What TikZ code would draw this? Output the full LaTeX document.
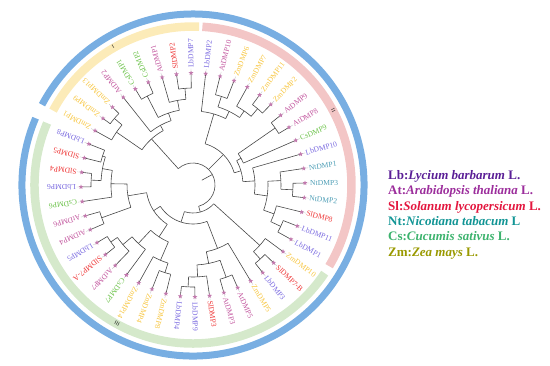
\documentclass[tikz,border=0pt]{standalone}
\usepackage{fontspec}
\setmainfont{Liberation Serif}
\usetikzlibrary{shapes.geometric}
\definecolor{ringblue}{HTML}{78AEE2}
\definecolor{ringy}{HTML}{FCEBB8}
\definecolor{ringp}{HTML}{F3C6C6}
\definecolor{ringg}{HTML}{D5E9CB}
\definecolor{mkc}{HTML}{C27AAE}
\definecolor{lbc}{HTML}{7B6BE0}
\definecolor{atc}{HTML}{C2569E}
\definecolor{slc}{HTML}{EE3535}
\definecolor{ntc}{HTML}{4C9DB5}
\definecolor{csc}{HTML}{6CC24A}
\definecolor{zmc}{HTML}{F7C53E}
\definecolor{lbleg}{HTML}{5A1E96}
\definecolor{atleg}{HTML}{9C2E9C}
\definecolor{slleg}{HTML}{E3163E}
\definecolor{ntleg}{HTML}{129595}
\definecolor{csleg}{HTML}{3DB36E}
\definecolor{zmleg}{HTML}{999900}
\newcommand\Stem[3]{\draw[br] (#1:#2pt) -- (#1:#3pt);}
\newcommand\Harc[3]{\draw[br] (#1:#3pt) arc[start angle=#1, end angle=#2, radius=#3pt];}
\newcommand\Inode[5]{\Stem{#1}{#2}{#3}\Harc{#4}{#5}{#3}}
\newcommand\Leaf[5]{\draw[br] (#1:#2pt) -- (#1:112pt);
  \draw[tipline] (#1:113pt) -- (#1:116.5pt);
  \node[mk] (m#3) at (#1:112pt) {};
  \node[lbl, text=#5, rotate=#1] (#3) at (#1:117pt) {#4};}
\begin{document}
\begin{tikzpicture}[x=1pt,y=1pt,
  br/.style={draw=black!72, line width=0.6pt},
  tipline/.style={draw=black!25, line width=0.3pt},
  mk/.style={star, star points=5, star point ratio=2.3, minimum size=5pt, inner sep=0pt, fill=mkc, draw=none},
  lbl/.style={font=\fontsize{7.6}{8}\selectfont, inner sep=0pt, anchor=west},
  leg/.style={font=\fontsize{13}{15}\selectfont\bfseries, inner sep=0pt, anchor=base west},
  rom/.style={font=\fontsize{5}{5}\selectfont, inner sep=0pt, text=black},
  ring/.style={line width=8.5pt, line cap=butt}]
\useasboundingbox (-193,-180) rectangle (357,185);
% rings
\draw[line width=7pt, color=ringblue] (157:171pt) arc[start angle=157, end angle=512, radius=171pt];
\draw[ring, color=ringy] (152:158.5pt) arc[start angle=152, end angle=87.8, radius=158.5pt];
\draw[ring, color=ringp] (86.6:158.5pt) arc[start angle=86.6, end angle=-30.8, radius=158.5pt];
\draw[ring, color=ringg] (-33.8:158.5pt) arc[start angle=-33.8, end angle=-203, radius=158.5pt];
\node[rom, rotate=30] (r1) at (120:160pt) {I};
\node[rom, rotate=-62] (r2) at (28:159pt) {II};
\node[rom, rotate=-208.7] (r3) at (-118.7:158pt) {III};
% root
\Stem{28.5}{10}{22}
\Harc{132.02}{-75}{22}
% clade I
\Inode{132.02}{22}{62}{145.375}{118.66}
\Inode{145.375}{62}{93}{151}{139.75}
\Leaf{151}{93}{ZmDMP1}{ZmDMP1}{zmc}
\Inode{139.75}{93}{103}{143.5}{136}
\Leaf{143.5}{103}{ZmDMP9}{ZmDMP9}{zmc}
\Leaf{136}{103}{ZmDMP13}{ZmDMP13}{zmc}
\Inode{118.66}{62}{68}{128.5}{108.8125}
\Leaf{128.5}{68}{AtDMP2}{AtDMP2}{atc}
\Inode{108.8125}{68}{76}{117.25}{100.375}
\Inode{117.25}{76}{100}{121}{113.5}
\Leaf{121}{100}{CsDMP1}{CsDMP1}{csc}
\Leaf{113.5}{100}{CsDMP2}{CsDMP2}{csc}
\Inode{100.375}{76}{86}{106}{94.75}
\Leaf{106}{86}{AtDMP1}{AtDMP1}{atc}
\Inode{94.75}{86}{97}{98.5}{91}
\Leaf{98.5}{97}{SlDMP2}{SlDMP2}{slc}
\Leaf{91}{97}{LbDMP7}{LbDMP7}{lbc}
% clade II
\Inode{45.06}{22}{43}{73.656}{16.47}
\Inode{73.656}{43}{74}{83.5}{63.8125}
\Leaf{83.5}{74}{LbDMP2}{LbDMP2}{lbc}
\Inode{63.8125}{74}{82}{72.25}{55.375}
\Inode{72.25}{82}{93}{76}{68.5}
\Leaf{76}{93}{AtDMP10}{AtDMP10}{atc}
\Leaf{68.5}{93}{ZmDMP6}{ZmDMP6}{zmc}
\Inode{55.375}{82}{90}{61}{49.75}
\Leaf{61}{90}{ZmDMP7}{ZmDMP7}{zmc}
\Inode{49.75}{90}{100}{53.5}{46}
\Leaf{53.5}{100}{ZmDMP11}{ZmDMP11}{zmc}
\Leaf{46}{100}{ZmDMP2}{ZmDMP2}{zmc}
\Inode{16.47}{43}{50}{29.125}{3.8125}
\Inode{29.125}{50}{55}{34.75}{23.5}
\Inode{34.75}{55}{100}{38.5}{31}
\Leaf{38.5}{100}{AtDMP9}{AtDMP9}{atc}
\Leaf{31}{100}{AtDMP8}{AtDMP8}{atc}
\Leaf{23.5}{55}{CsDMP9}{CsDMP9}{csc}
\Inode{3.8125}{50}{62}{16}{-8.375}
\Leaf{16}{62}{LbDMP10}{LbDMP10}{lbc}
\Inode{-8.375}{62}{75}{2.875}{-19.625}
\Inode{2.875}{75}{88}{8.5}{-2.75}
\Leaf{8.5}{88}{NtDMP1}{NtDMP1}{ntc}
\Inode{-2.75}{88}{100}{1}{-6.5}
\Leaf{1}{100}{NtDMP3}{NtDMP3}{ntc}
\Leaf{-6.5}{100}{NtDMP2}{NtDMP2}{ntc}
\Inode{-19.625}{75}{86}{-14}{-25.25}
\Leaf{-14}{86}{SlDMP8}{SlDMP8}{slc}
\Inode{-25.25}{86}{97}{-21.5}{-29}
\Leaf{-21.5}{97}{LbDMP11}{LbDMP11}{lbc}
\Leaf{-29}{97}{LbDMP1}{LbDMP1}{lbc}
% clade III
\Inode{-75}{22}{28}{-42.125}{-107.87}
\Inode{-42.125}{28}{90}{-36.5}{-47.75}
\Leaf{-36.5}{90}{ZmDMP10}{ZmDMP10}{zmc}
\Inode{-47.75}{90}{100}{-44}{-51.5}
\Leaf{-44}{100}{SlDMP7B}{SlDMP7-B}{slc}
\Leaf{-51.5}{100}{LbDMP3}{LbDMP3}{lbc}
\Inode{-107.87}{28}{39}{-68.84}{-146.89}
\Inode{-68.84}{39}{68}{-59}{-78.6875}
\Leaf{-59}{68}{ZmDMP5}{ZmDMP5}{zmc}
\Inode{-78.6875}{68}{80}{-70.25}{-87.125}
\Inode{-70.25}{80}{98}{-66.5}{-74}
\Leaf{-66.5}{98}{AtDMP5}{AtDMP5}{atc}
\Leaf{-74}{98}{AtDMP3}{AtDMP3}{atc}
\Inode{-87.125}{80}{92}{-81.5}{-92.75}
\Leaf{-81.5}{92}{SlDMP3}{SlDMP3}{slc}
\Inode{-92.75}{92}{102}{-89}{-96.5}
\Leaf{-89}{102}{LbDMP9}{LbDMP9}{lbc}
\Leaf{-96.5}{102}{LbDMP4}{LbDMP4}{lbc}
\Inode{-146.89}{39}{47}{-123.22}{-170.56}
\Inode{-123.22}{47}{62}{-113.375}{-133.06}
\Inode{-113.375}{62}{82}{-107.75}{-119}
\Inode{-107.75}{82}{92}{-104}{-111.5}
\Leaf{-104}{92}{ZmDMP8}{ZmDMP8}{zmc}
\Leaf{-111.5}{92}{ZmDMP4}{ZmDMP4}{zmc}
\Leaf{-119}{82}{ZmDMP14}{ZmDMP14}{zmc}
\Inode{-133.06}{62}{80}{-126.5}{-139.625}
\Leaf{-126.5}{80}{CsDMP7}{CsDMP7}{csc}
\Inode{-139.625}{80}{92}{-134}{-145.25}
\Leaf{-134}{92}{AtDMP7}{AtDMP7}{atc}
\Inode{-145.25}{92}{100}{-141.5}{-149}
\Leaf{-141.5}{100}{SlDMP7A}{SlDMP7-A}{slc}
\Leaf{-149}{100}{LbDMP5}{LbDMP5}{lbc}
\Inode{-170.56}{47}{66}{-160.25}{-180.875}
\Inode{-160.25}{66}{97}{-156.5}{-164}
\Leaf{-156.5}{97}{AtDMP4}{AtDMP4}{atc}
\Leaf{-164}{97}{AtDMP6}{AtDMP6}{atc}
\Inode{-180.875}{66}{82}{-171.5}{-190.25}
\Leaf{-171.5}{82}{CsDMP6}{CsDMP6}{csc}
\Inode{-190.25}{82}{92}{-182.75}{-197.75}
\Inode{-182.75}{92}{102}{-179}{-186.5}
\Leaf{-179}{102}{LbDMP6}{LbDMP6}{lbc}
\Leaf{-186.5}{102}{SlDMP4}{SlDMP4}{slc}
\Inode{-197.75}{92}{95}{-194}{-201.5}
\Leaf{-194}{95}{SlDMP5}{SlDMP5}{slc}
\Leaf{-201.5}{95}{LbDMP8}{LbDMP8}{lbc}
% legend
\node[leg, text=lbleg] (legLb) at (195,6) {Lb:\textit{Lycium barbarum} L.};
\node[leg, text=atleg] (legAt) at (195,-9.5) {At:\textit{Arabidopsis thaliana} L.};
\node[leg, text=slleg] (legSl) at (195,-25) {Sl:\textit{Solanum lycopersicum} L.};
\node[leg, text=ntleg] (legNt) at (195,-40) {Nt:\textit{Nicotiana tabacum} L};
\node[leg, text=csleg] (legCs) at (195,-55.5) {Cs:\textit{Cucumis sativus} L.};
\node[leg, text=zmleg] (legZm) at (195,-71) {Zm:\textit{Zea mays} L.};
\end{tikzpicture}
\end{document}
